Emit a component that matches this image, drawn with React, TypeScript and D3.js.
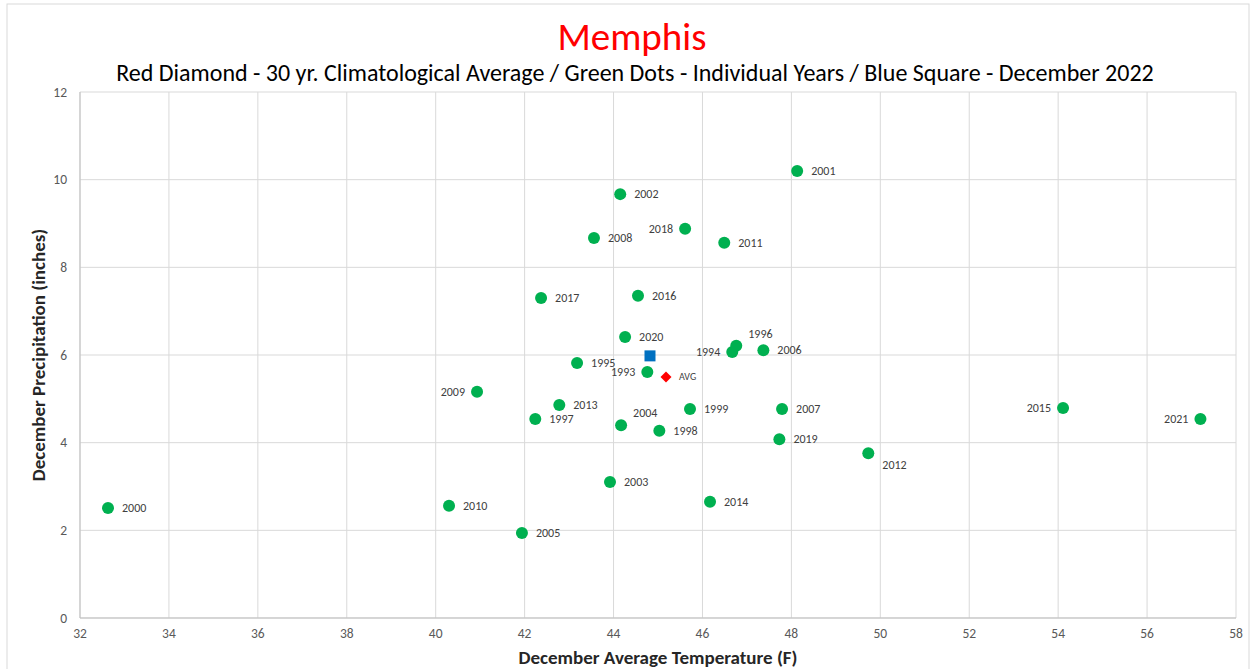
import * as React from "react";
import * as d3 from "d3";

const years = [
  "2000", "2010", "2005", "2009", "1997", "2013", "2017", "1995", "2008", "2002",
  "2016", "2020", "1993", "2004", "2003", "1998", "1999", "2018", "2011", "2014",
  "1994", "1996", "2006", "2001", "2007", "2019", "2012", "2015", "2021",
];
const temps = [
  32.63, 40.3, 41.94, 40.93, 42.24, 42.78, 42.37, 43.18, 43.56, 44.15,
  44.55, 44.26, 44.76, 44.17, 43.92, 45.03, 45.72, 45.61, 46.49, 46.17,
  46.67, 46.76, 47.37, 48.13, 47.79, 47.73, 49.73, 54.11, 57.2,
];
const precip = [
  2.51, 2.56, 1.94, 5.16, 4.54, 4.86, 7.3, 5.82, 8.67, 9.67,
  7.35, 6.41, 5.61, 4.4, 3.1, 4.27, 4.77, 8.88, 8.56, 2.65,
  6.07, 6.21, 6.11, 10.2, 4.77, 4.08, 3.76, 4.79, 4.54,
];
// where each label sits relative to its dot
const labelSide: Record<string, string> = {
  "2018": "left", "1994": "left", "1993": "left", "2009": "left",
  "2015": "left", "2021": "left", "1996": "above", "2004": "above",
  "2012": "below",
};

const avgTemp = 45.18;
const avgPrecip = 5.5;
const dec2022Temp = 44.82;
const dec2022Precip = 5.98;

const xTicks = d3.range(32, 59, 2);
const yTicks = d3.range(0, 13, 2);

const W = 1252;
const H = 669;
const margin = { left: 80, right: 16, top: 92, bottom: 51 };
const font = "Carlito, Calibri, 'Liberation Sans', sans-serif";

export default function App() {
  const x = d3.scaleLinear().domain([32, 58]).range([margin.left, W - margin.right]);
  const y = d3.scaleLinear().domain([0, 12]).range([H - margin.bottom, margin.top]);

  const dots = years.map((yr, i) => {
    const cx = x(temps[i]);
    const cy = y(precip[i]);
    const side = labelSide[yr] || "right";
    let lx = cx + 14;
    let ly = cy + 4;
    let anchor = "start";
    if (side === "left") {
      lx = cx - 12;
      anchor = "end";
    } else if (side === "above") {
      lx = cx + 12;
      ly = cy - 8;
    } else if (side === "below") {
      ly = cy + 16;
    }
    return (
      <g key={yr}>
        <circle cx={cx} cy={cy} r={6} fill="#00B050" />
        <text x={lx} y={ly} textAnchor={anchor} fontSize={12} fill="#404040">
          {yr}
        </text>
      </g>
    );
  });

  const ax = x(avgTemp);
  const ay = y(avgPrecip);
  const d = 5.5;

  return (
    <svg width={W} height={H} style={{ position: "absolute", left: 0, top: 0 }} fontFamily={font}>
      <rect x={0} y={0} width={W} height={H} fill="#fff" />
      <rect x={7} y={4} width={W - 10} height={H + 10} fill="none" stroke="#D9D9D9" />
      <text x={632} y={50} textAnchor="middle" fontSize={39} fill="#FF0000">
        Memphis
      </text>
      <text x={635} y={81} textAnchor="middle" fontSize={24} fill="#000">
        Red Diamond - 30 yr. Climatological Average / Green Dots - Individual Years / Blue Square - December 2022
      </text>
      {xTicks.map((t) => (
        <g key={"x" + t}>
          <line x1={x(t)} x2={x(t)} y1={y(0)} y2={y(12)} stroke="#D9D9D9" />
          <text x={x(t)} y={y(0) + 20} textAnchor="middle" fontSize={13.5} fill="#595959">
            {t}
          </text>
        </g>
      ))}
      {yTicks.map((t) => (
        <g key={"y" + t}>
          <line x1={x(32)} x2={x(58)} y1={y(t)} y2={y(t)} stroke="#D9D9D9" />
          <text x={67} y={y(t) + 4.5} textAnchor="end" fontSize={13.5} fill="#595959">
            {t}
          </text>
        </g>
      ))}
      <line x1={x(32)} x2={x(58)} y1={y(0)} y2={y(0)} stroke="#BFBFBF" />
      <line x1={x(32)} x2={x(32)} y1={y(0)} y2={y(12)} stroke="#BFBFBF" />
      {dots}
      <rect x={x(dec2022Temp) - 5.5} y={y(dec2022Precip) - 5.5} width={11} height={11} fill="#0070C0" />
      <path d={`M${ax},${ay - d}L${ax + d},${ay}L${ax},${ay + d}L${ax - d},${ay}Z`} fill="#FF0000" />
      <text x={ax + 13} y={ay + 3.5} fontSize={10} fill="#404040">
        AVG
      </text>
      <text x={658} y={664} textAnchor="middle" fontSize={19} fontWeight="bold" fill="#262626">
        December Average Temperature (F)
      </text>
      <text
        transform={`translate(45,355) rotate(-90)`}
        textAnchor="middle"
        fontSize={19}
        fontWeight="bold"
        fill="#262626"
      >
        December Precipitation (inches)
      </text>
    </svg>
  );
}
